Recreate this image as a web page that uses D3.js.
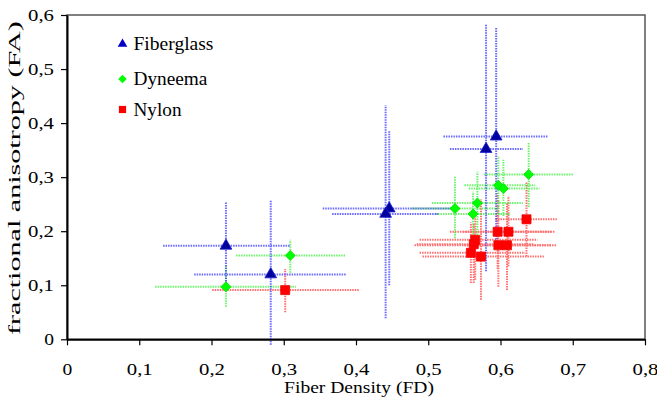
<!DOCTYPE html>
<meta charset="utf-8">
<style>
  body { margin: 0; background: #fff; }
  .bar { fill: none; stroke-width: 2; stroke-dasharray: 1.5 1; }
</style>
<body>
<script src="https://cdn.jsdelivr.net/npm/d3@7"></script>
<script>
// rows: [x, y, xMin, xMax, yMin, yMax]
const fiberglass = [
  [0.220, 0.173, 0.133, 0.309, 0.093, 0.254],
  [0.282, 0.120, 0.176, 0.386, -0.010, 0.258],
  [0.446, 0.242, 0.354, 0.539, 0.100, 0.385],
  [0.441, 0.232, 0.367, 0.514, 0.039, 0.433],
  [0.580, 0.352, 0.530, 0.631, 0.126, 0.582],
  [0.594, 0.375, 0.521, 0.666, 0.180, 0.576]
];
const dyneema = [
  [0.220, 0.097, 0.122, 0.317, 0.060, 0.137],
  [0.309, 0.155, 0.234, 0.385, 0.123, 0.184],
  [0.639, 0.305, 0.577, 0.701, 0.245, 0.363],
  [0.597, 0.285, 0.550, 0.648, 0.232, 0.339],
  [0.604, 0.279, 0.556, 0.654, 0.228, 0.332],
  [0.537, 0.242, 0.477, 0.597, 0.187, 0.302],
  [0.568, 0.252, 0.505, 0.631, 0.193, 0.310],
  [0.562, 0.232, 0.510, 0.614, 0.189, 0.273]
];
const nylon = [
  [0.302, 0.091, 0.201, 0.405, 0.050, 0.130],
  [0.636, 0.222, 0.593, 0.678, 0.153, 0.290],
  [0.596, 0.199, 0.530, 0.670, 0.130, 0.270],
  [0.611, 0.199, 0.548, 0.675, 0.135, 0.265],
  [0.565, 0.184, 0.488, 0.651, 0.110, 0.227],
  [0.563, 0.176, 0.484, 0.646, 0.104, 0.215],
  [0.597, 0.174, 0.481, 0.677, 0.097, 0.259],
  [0.609, 0.174, 0.550, 0.670, 0.091, 0.253],
  [0.559, 0.160, 0.488, 0.634, 0.104, 0.216],
  [0.573, 0.153, 0.492, 0.660, 0.073, 0.259]
];
const xTicks = [0, 0.1, 0.2, 0.3, 0.4, 0.5, 0.6, 0.7, 0.8];
const yTicks = [0, 0.1, 0.2, 0.3, 0.4, 0.5, 0.6];
const seriesNames = ["Fiberglass", "Dyneema", "Nylon"];

const width = 657, height = 407;
const plotL = 67, plotR = 645, plotT = 15, plotB = 339.3;
const serif = '"Liberation Serif"';

const svg = d3.select("body").append("svg")
  .attr("width", width).attr("height", height);

const x = d3.scaleLinear().domain([0, 0.8]).range([plotL, plotR]);
const y = d3.scaleLinear().domain([0, 0.6]).range([plotB, plotT]);

const fmt = d => d === 0 ? "0" : d3.format(".1f")(d).replace(".", ",");

// stretch a text horizontally to a wanted width (the source picture is stretched)
function stretch(node, w) {
  const n = node.getComputedTextLength();
  return n > 0 ? w / n : 1;
}

// plot frame
svg.append("rect")
  .attr("x", plotL).attr("y", plotT)
  .attr("width", plotR - plotL).attr("height", plotB - plotT)
  .attr("fill", "none").attr("stroke", "#555").attr("stroke-width", 1.5);

const series = [
  { name: seriesNames[0], data: fiberglass, bar: "#3a3aff", fill: "#00009c", stroke: "#2020d0",
    sym: d3.symbolTriangle, size: 60, rot: 0, legSize: 40 },
  { name: seriesNames[1], data: dyneema, bar: "#3cf03c", fill: "#00ff00", stroke: "#00e000",
    sym: d3.symbolSquare, size: 50, rot: 45, legSize: 36 },
  { name: seriesNames[2], data: nylon, bar: "#ff4040", fill: "#ff0000", stroke: "#f00000",
    sym: d3.symbolSquare, size: 81, rot: 0, legSize: 52 }
];

// error bars, drawn back to front
const bars = svg.append("g");
series.slice().reverse().forEach(s => {
  const g = bars.append("g").attr("stroke", s.bar).attr("opacity", 0.75);
  g.selectAll(".h").data(s.data).join("line")
    .attr("class", "bar")
    .attr("x1", d => x(d[2])).attr("x2", d => x(d[3]))
    .attr("y1", d => y(d[1])).attr("y2", d => y(d[1]));
  g.selectAll(".v").data(s.data).join("line")
    .attr("class", "bar")
    .attr("x1", d => x(d[0])).attr("x2", d => x(d[0]))
    .attr("y1", d => y(d[4])).attr("y2", d => y(d[5]));
});

// markers
series.forEach(s => {
  svg.append("g").selectAll("path").data(s.data).join("path")
    .attr("d", d3.symbol().type(s.sym).size(s.size))
    .attr("transform", d => `translate(${x(d[0])},${y(d[1])}) rotate(${s.rot})`)
    .attr("fill", s.fill).attr("stroke", s.stroke).attr("stroke-width", 0.8);
});

// axes
const xAxis = svg.append("g")
  .attr("transform", `translate(0,${plotB})`)
  .call(d3.axisBottom(x).tickValues(xTicks).tickFormat(fmt).tickSize(6).tickSizeOuter(0));
const yAxis = svg.append("g")
  .attr("transform", `translate(${plotL},0)`)
  .call(d3.axisLeft(y).tickValues(yTicks).tickFormat(fmt).tickSize(6).tickSizeOuter(0));
[xAxis, yAxis].forEach(a => {
  a.attr("font-family", null).attr("font-size", null);
  a.select(".domain").attr("stroke", "#000").attr("stroke-width", 2);
  a.selectAll(".tick line").attr("stroke", "#000").attr("stroke-width", 1.2);
  a.selectAll("text").attr("fill", "#000")
    .style("font-family", serif).style("font-size", "17px");
});
xAxis.selectAll("text").attr("dy", null).attr("y", 0)
  .attr("transform", function(d) {
    const k = d === 0 ? 1.15 : stretch(this, 26);
    return `translate(0,36) scale(${k},1)`;
  });
yAxis.selectAll("text").attr("x", 0)
  .attr("transform", function(d) {
    const k = d === 0 ? 1.15 : stretch(this, 26);
    return `translate(-13,0) scale(${k},1)`;
  });

// axis titles
const xt = svg.append("text")
  .attr("text-anchor", "middle")
  .style("font-family", serif).style("font-size", "17px")
  .text("Fiber Density (FD)");
xt.attr("transform", `translate(${(plotL + plotR) / 2 + 3},393) scale(${stretch(xt.node(), 150)},1)`);

const yt = svg.append("text")
  .attr("text-anchor", "middle")
  .style("font-family", serif).style("font-size", "17px")
  .text("fractional anisotropy (FA)");
yt.attr("transform", `translate(20,${(plotT + plotB) / 2 + 1}) rotate(-90) scale(${stretch(yt.node(), 314)},1)`);

// legend
const legendWidths = [80, 74, 48];
const legend = svg.append("g");
series.forEach((s, i) => {
  const ly = [44, 79, 109.5][i];
  legend.append("path")
    .attr("d", d3.symbol().type(s.sym).size(s.legSize))
    .attr("transform", `translate(122.5,${ly}) rotate(${s.rot})`)
    .attr("fill", i === 0 ? "#0000c8" : s.fill);
  const t = legend.append("text")
    .style("font-family", serif).style("font-size", "19px")
    .text(s.name);
  t.attr("transform", `translate(133.5,${ly + 6}) scale(${stretch(t.node(), legendWidths[i])},1)`);
});
</script>
</body>
